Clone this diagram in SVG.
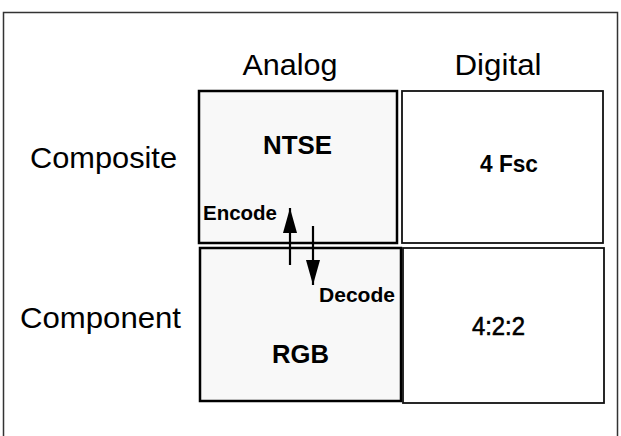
<svg xmlns="http://www.w3.org/2000/svg" width="621" height="436" viewBox="0 0 621 436">
<style>
.hdr{font-family:"Liberation Sans",Arial,sans-serif;font-size:29px;fill:#000}
.b{font-family:"Liberation Sans",Arial,sans-serif;font-weight:bold;fill:#000}
.m{font-family:"Liberation Sans",Arial,sans-serif;fill:#000;stroke:#000;stroke-width:0.6}
.cellA{fill:#f8f8f8;stroke:#000;stroke-width:2.5}
.cellD{fill:#fff;stroke:#111;stroke-width:1.8}
.conn{stroke:#000;stroke-width:2.2;fill:none}
</style>
<defs>
<marker id="ah" markerUnits="userSpaceOnUse" markerWidth="26" markerHeight="16" refX="25" refY="8" orient="auto">
<path d="M0,1 L25,8 L0,15 Z" fill="#000"/>
</marker>
</defs>
<rect x="3.5" y="12.5" width="614" height="430" fill="#fff" stroke="#333" stroke-width="1.5"/>
<g id="labels">
<text class="hdr" x="290" y="75" text-anchor="middle" textLength="95" lengthAdjust="spacingAndGlyphs">Analog</text>
<text class="hdr" x="498" y="75" text-anchor="middle" textLength="87" lengthAdjust="spacingAndGlyphs">Digital</text>
<text class="hdr" x="30" y="168" textLength="147" lengthAdjust="spacingAndGlyphs">Composite</text>
<text class="hdr" x="20" y="328" textLength="161" lengthAdjust="spacingAndGlyphs">Component</text>
</g>
<g id="ntse">
<rect class="cellA" x="199" y="91" width="198" height="152"/>
<text class="b" x="297.5" y="154" font-size="26" text-anchor="middle" textLength="69" lengthAdjust="spacingAndGlyphs">NTSE</text>
</g>
<g id="fsc">
<rect class="cellD" x="402" y="91" width="201" height="152"/>
<text class="b" x="509" y="172" font-size="23" text-anchor="middle" textLength="58" lengthAdjust="spacingAndGlyphs">4 Fsc</text>
</g>
<g id="rgb">
<rect class="cellA" x="200" y="248" width="201" height="153"/>
<text class="b" x="300.5" y="363" font-size="25" text-anchor="middle" textLength="57" lengthAdjust="spacingAndGlyphs">RGB</text>
</g>
<g id="c422">
<rect class="cellD" x="403" y="248" width="201" height="155"/>
<text class="m" x="498.5" y="335" font-size="25" text-anchor="middle" textLength="53" lengthAdjust="spacingAndGlyphs">4:2:2</text>
</g>
<g id="connectors">
<line class="conn" x1="290" y1="265" x2="290" y2="208" marker-end="url(#ah)"/>
<line class="conn" x1="313" y1="226" x2="313" y2="285" marker-end="url(#ah)"/>
<text class="b" x="203" y="220" font-size="19.5" textLength="74" lengthAdjust="spacingAndGlyphs">Encode</text>
<text class="b" x="319" y="302" font-size="19.5" textLength="76" lengthAdjust="spacingAndGlyphs">Decode</text>
</g>
</svg>
